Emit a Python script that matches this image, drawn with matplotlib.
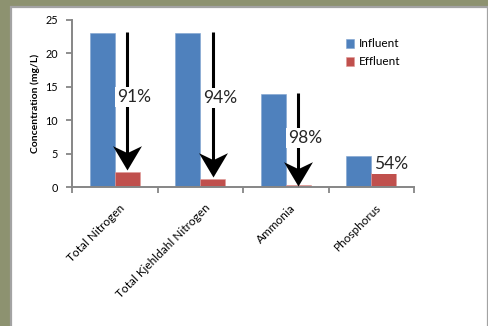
import numpy as np
import matplotlib
matplotlib.use('Agg')
import matplotlib.pyplot as plt
from matplotlib.patches import Rectangle
from matplotlib.path import Path
from matplotlib.transforms import ScaledTranslation

plt.rcParams['font.family'] = ['Lato', 'DejaVu Sans']

# data
categories = ['Total Nitrogen', 'Total Kjehldahl Nitrogen', 'Ammonia', 'Phosphorus']
influent = [23.0, 23.0, 13.9, 4.65]
effluent = [2.2, 1.25, 0.3, 2.15]
removal = ['91%', '94%', '98%', '54%']
arrow_tip = [2.6, 1.45, 0.15]   # arrows only on the first three
label_y = [13.5, 13.3, 7.3, 3.4]

blueColor = '#4F81BD'
redColor = '#C0504D'
olive = '#8d9270'

# stealth-like arrow head, tip at the origin
stealth = Path([(0, 0), (12.5, 21), (0, 15), (-12.5, 21), (0, 0)],
               [Path.MOVETO, Path.LINETO, Path.LINETO, Path.LINETO, Path.CLOSEPOLY])

fig = plt.figure(figsize=(4.89, 3.26), dpi=100, facecolor=olive)
# white panel with grey border
fig.patches.append(Rectangle((10.5 / 489, -0.1), 477.5 / 489, 1.1 - 6.5 / 326,
                             transform=fig.transFigure, facecolor='white',
                             edgecolor='#a3a3a3', linewidth=1.6, zorder=-1))

ax = fig.add_axes([72 / 489, 139 / 326, 342 / 489, 167 / 326])
ax.set_zorder(1)
ax.set_facecolor('none')

x = np.arange(len(categories))
w = 0.29
ax.bar(x - w / 2, influent, w, color=blueColor, edgecolor='#7fa3d0', linewidth=0.4,
       label='Influent', zorder=2)
ax.bar(x + w / 2, effluent, w, color=redColor, edgecolor='#e09a98', linewidth=0.4,
       label='Effluent', zorder=2)

# reduction arrows from influent level down to the effluent bar
for i, tip in enumerate(arrow_tip):
    xa = x[i] + w / 2
    ax.plot([xa, xa], [influent[i] + 0.2, tip + 1.0], color='black', lw=2.2,
            solid_capstyle='butt', zorder=3)
    ax.plot([xa], [tip], marker=stealth, markersize=35, color='black',
            markeredgewidth=0, zorder=3)

for i, txt in enumerate(removal):
    ax.text(x[i] + 0.23, label_y[i], txt, ha='center', va='center', fontsize=12.5,
            color='#262626', zorder=4,
            bbox=dict(facecolor='white', edgecolor='none', pad=1.5))

ax.set_xlim(-0.5, 3.5)
ax.set_ylim(0, 25)
ax.set_yticks([0, 5, 10, 15, 20, 25])
ax.tick_params(axis='y', labelsize=7.8, length=4, width=1.3, color='#868686', pad=6)

ax.set_xticks(x)
ax.set_xticklabels(categories, rotation=45, ha='right', rotation_mode='anchor', fontsize=8.5)
ax.tick_params(axis='x', which='major', length=0, pad=11)
for lab in ax.get_xticklabels():
    lab.set_transform(lab.get_transform() + ScaledTranslation(0.04, 0, fig.dpi_scale_trans))
ax.set_xticks(np.arange(-0.5, 4, 1), minor=True)
ax.tick_params(axis='x', which='minor', length=4, width=1.3, color='#868686')

for s in ['top', 'right']:
    ax.spines[s].set_visible(False)
for s in ['left', 'bottom']:
    ax.spines[s].set_color('#868686')
    ax.spines[s].set_linewidth(1.4)

ax.set_ylabel('Concentration (mg/L)', fontsize=7.5, fontweight='bold', labelpad=4)

ax.legend(loc='upper left', bbox_to_anchor=(0.80, 0.89), frameon=False, fontsize=8.5,
          handlelength=0.75, handleheight=0.75, handletextpad=0.35, labelspacing=0.6,
          borderpad=0, borderaxespad=0)

fig.savefig('out.png', dpi=100, facecolor=olive)
